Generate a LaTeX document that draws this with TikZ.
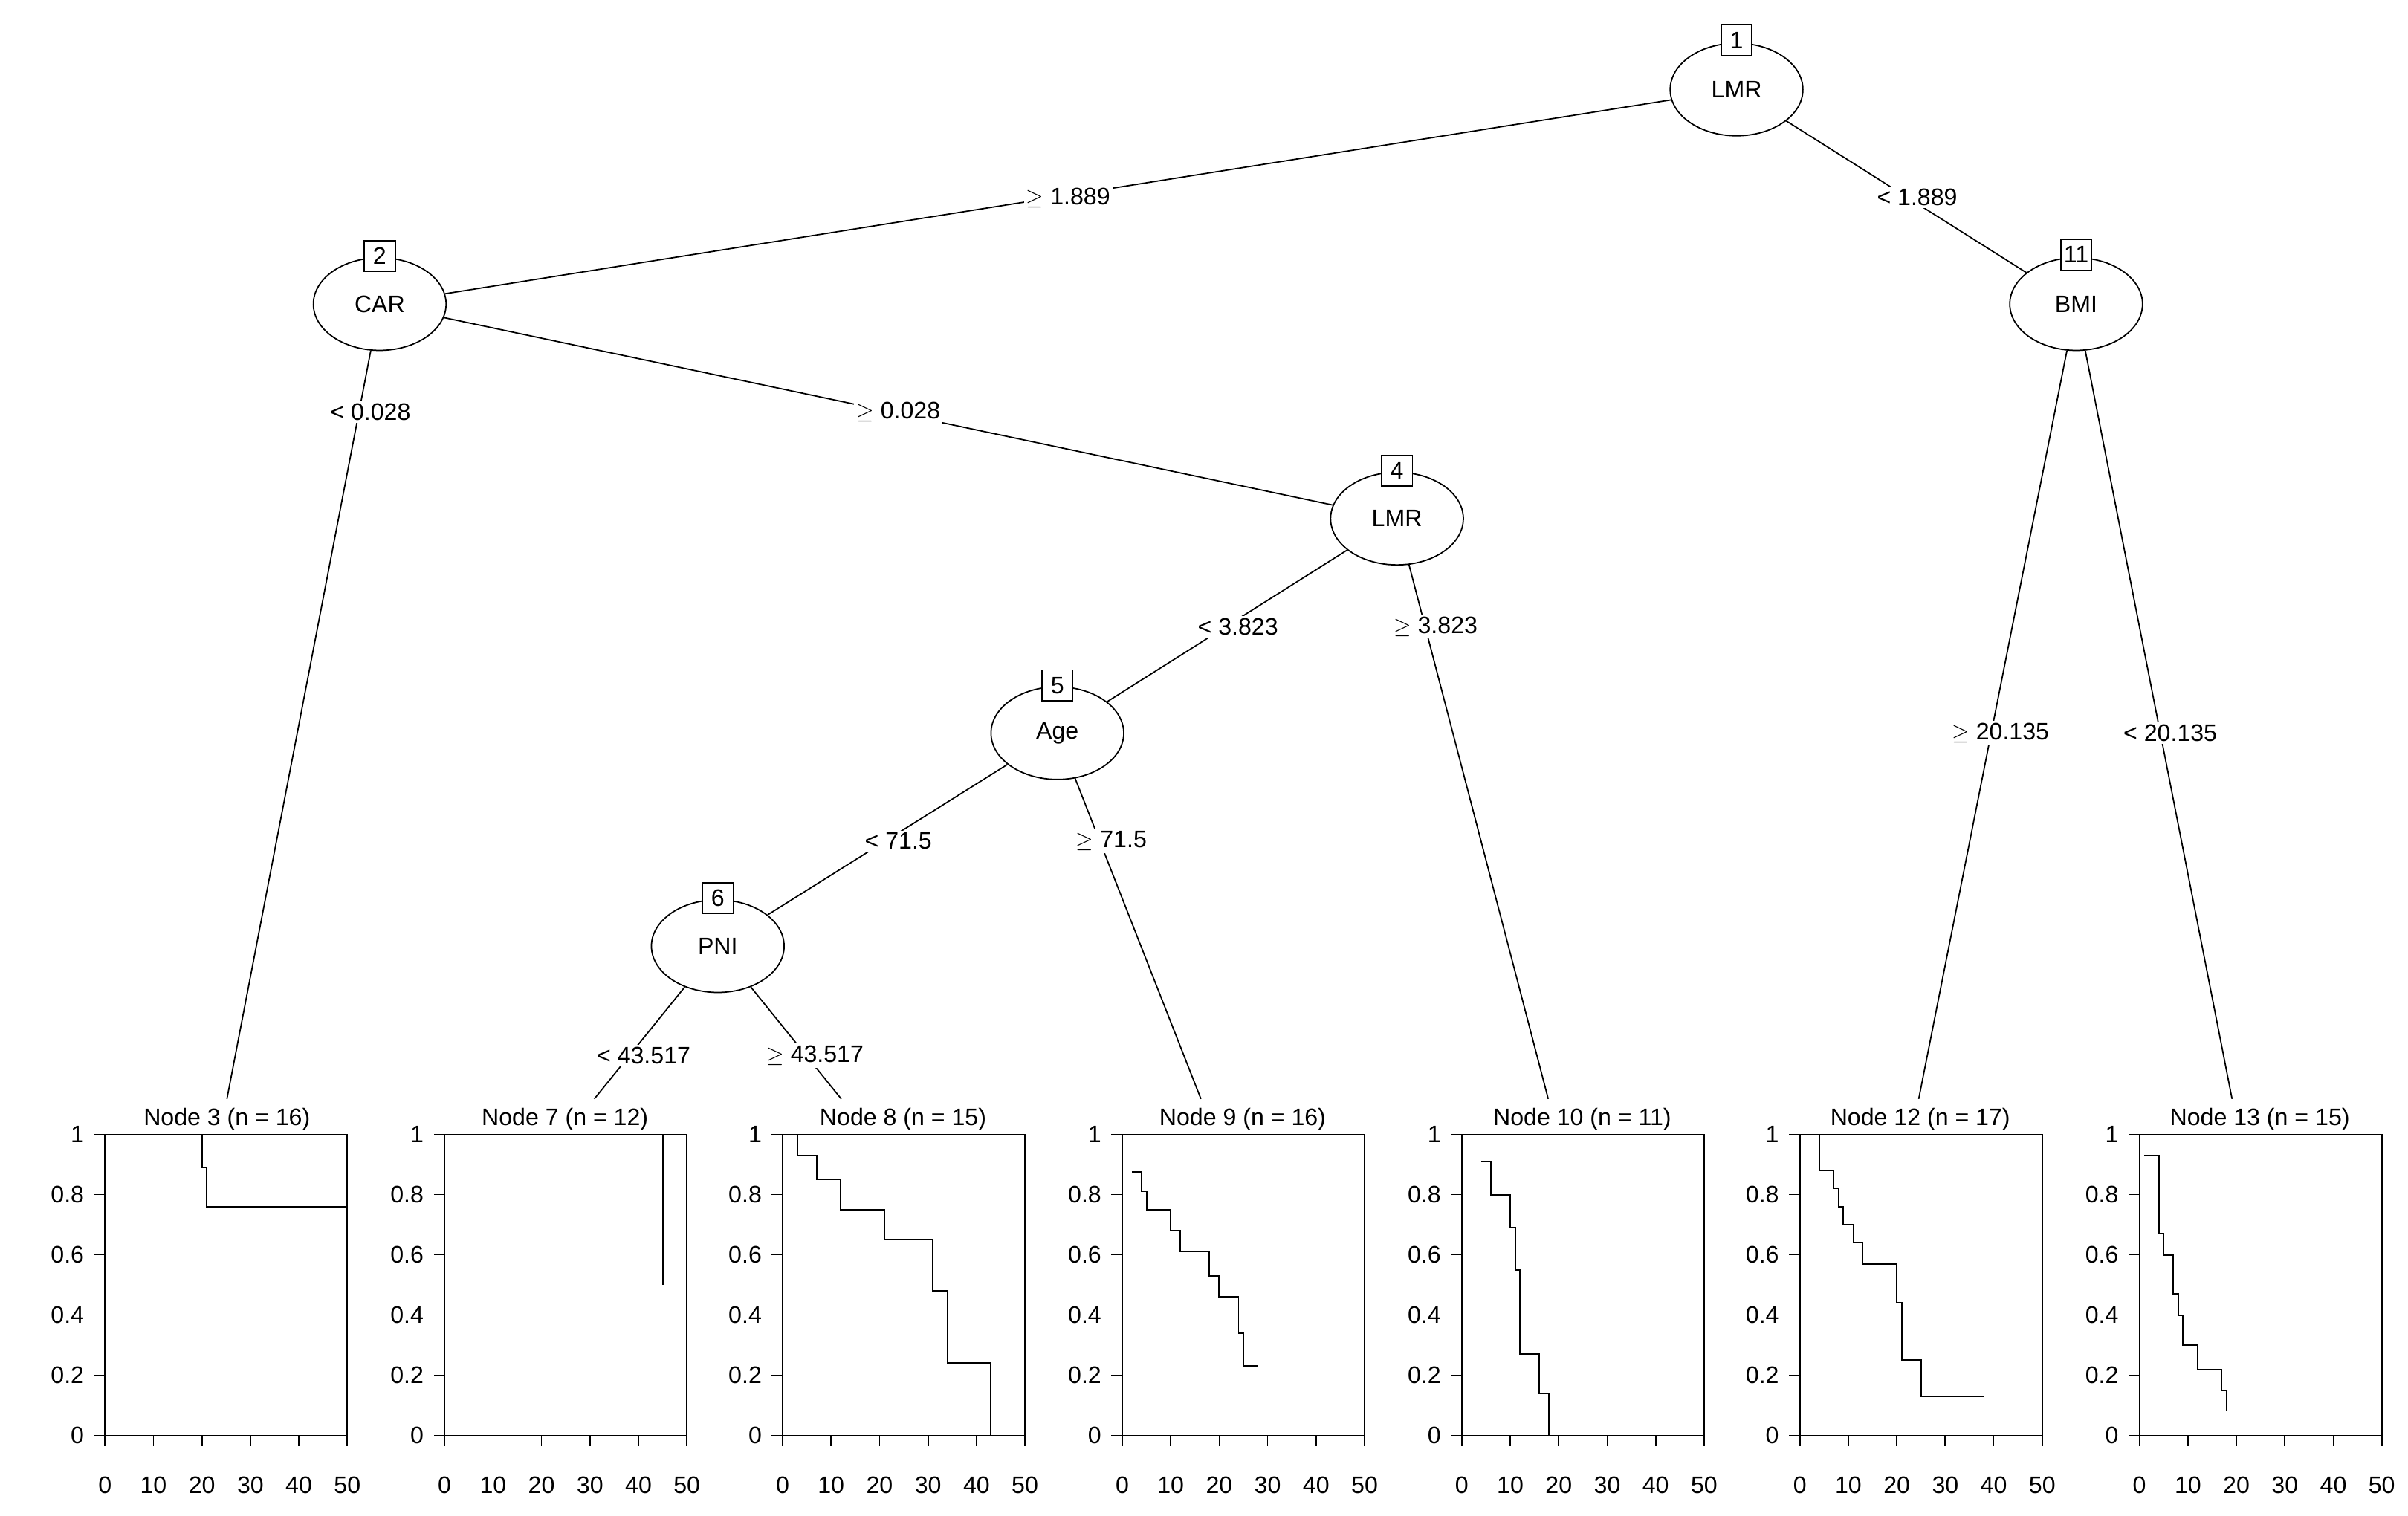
\documentclass[tikz,border=0pt]{standalone}
\usepackage{fontspec}
\setmainfont{Liberation Sans}
\usetikzlibrary{shapes.geometric}
\begin{document}
\begin{tikzpicture}[x=0.05cm,y=-0.05cm,font=\fontsize{22}{26}\selectfont,
  inner/.style={ellipse,draw,line width=1.2pt,minimum width=4.3cm,minimum height=3cm,fill=white},
  num/.style={draw,fill=white,line width=1.2pt,minimum size=1cm,inner sep=0pt},
  lab/.style={fill=white,inner sep=2pt},
  edge/.style={line width=1.2pt},
  curve/.style={line width=1.3pt}]
\useasboundingbox (0,0) rectangle (1560,982);
\node[inner] (n1) at (1125,58) {LMR};
\node[inner] (n2) at (246,197) {CAR};
\node[inner] (n11) at (1345,197) {BMI};
\node[inner] (n4) at (905,336) {LMR};
\node[inner] (n5) at (685,475) {Age};
\node[inner] (n6) at (465,613) {PNI};
\node (l3) at (147,725) {Node 3 (n = 16)};
\node (l7) at (366,725) {Node 7 (n = 12)};
\node (l8) at (585,725) {Node 8 (n = 15)};
\node (l9) at (805,725) {Node 9 (n = 16)};
\node (l10) at (1025,725) {Node 10 (n = 11)};
\node (l12) at (1244,725) {Node 12 (n = 17)};
\node (l13) at (1464,725) {Node 13 (n = 15)};
\coordinate (e3) at (147,712);
\coordinate (e7) at (385,712);
\coordinate (e8) at (545,712);
\coordinate (e9) at (778,712);
\coordinate (e10) at (1003,712);
\coordinate (e12) at (1243,712);
\coordinate (e13) at (1446,712);
\begin{scope}[edge]
\draw (n1) -- (n2); \draw (n1) -- (n11);
\draw (n2) -- (e3); \draw (n2) -- (n4);
\draw (n4) -- (n5); \draw (n4) -- (e10);
\draw (n5) -- (n6); \draw (n5) -- (e9);
\draw (n6) -- (e7); \draw (n6) -- (e8);
\draw (n11) -- (e12); \draw (n11) -- (e13);
\end{scope}
\node[num] (b1) at (1125,26) {1};
\node[num] (b2) at (246,166) {2};
\node[num] (b11) at (1345,165) {11};
\node[num] (b4) at (905,305) {4};
\node[num] (b5) at (685,444) {5};
\node[num] (b6) at (465,582) {6};
\node[lab] (t1) at (692,128) {$\geq$ 1.889};
\node[lab] (t2) at (1242,128) {< 1.889};
\node[lab] (t3) at (240,267) {< 0.028};
\node[lab] (t4) at (582,267) {$\geq$ 0.028};
\node[lab] (t5) at (802,406) {< 3.823};
\node[lab] (t6) at (930,406) {$\geq$ 3.823};
\node[lab] (t7) at (582,545) {< 71.5};
\node[lab] (t8) at (720,545) {$\geq$ 71.5};
\node[lab] (t9) at (417,684) {< 43.517};
\node[lab] (t10) at (528,684) {$\geq$ 43.517};
\node[lab] (t11) at (1296,475) {$\geq$ 20.135};
\node[lab] (t12) at (1406,475) {< 20.135};
\foreach \x in {68,288,507,727,947,1166,1386}{
  \draw[line width=1.2pt] (\x,735) rectangle (\x+157,930);
  \foreach \v/\s in {0/0,0.2/0.2,0.4/0.4,0.6/0.6,0.8/0.8,1/1}{
    \draw[line width=1.2pt] (\x,930-195*\v) -- (\x-7,930-195*\v);
    \node[anchor=east,inner sep=2pt] at (\x-12,930-195*\v) {\s};}
  \foreach \t in {0,10,20,30,40,50}{
    \draw[line width=1.2pt] (\x+3.14*\t,930) -- (\x+3.14*\t,937);
    \node at (\x+3.14*\t,962) {\t};}
}
\newcommand{\km}[2]{\begin{scope}[shift={(#1,930)},xscale=3.14,yscale=-195]\draw[curve] #2;\end{scope}}
\km{68}{(20,1) -- (20,0.89) -- (21,0.89) -- (21,0.76) -- (50,0.76)}
\km{288}{(45,1) -- (45,0.5)}
\km{507}{(3,1) -- (3,0.93) -- (7,0.93) -- (7,0.85) -- (12,0.85) -- (12,0.75) -- (21,0.75) -- (21,0.65) -- (31,0.65) -- (31,0.48) -- (34,0.48) -- (34,0.24) -- (43,0.24) -- (43,0)}
\km{727}{(2,0.875) -- (4,0.875) -- (4,0.81) -- (5,0.81) -- (5,0.75) -- (10,0.75) -- (10,0.68) -- (12,0.68) -- (12,0.61) -- (18,0.61) -- (18,0.53) -- (20,0.53) -- (20,0.46) -- (24,0.46) -- (24,0.34) -- (25,0.34) -- (25,0.23) -- (28,0.23)}
\km{947}{(4,0.91) -- (6,0.91) -- (6,0.8) -- (10,0.8) -- (10,0.69) -- (11,0.69) -- (11,0.55) -- (12,0.55) -- (12,0.27) -- (16,0.27) -- (16,0.14) -- (18,0.14) -- (18,0)}
\km{1166}{(4,1) -- (4,0.88) -- (7,0.88) -- (7,0.82) -- (8,0.82) -- (8,0.76) -- (9,0.76) -- (9,0.70) -- (11,0.70) -- (11,0.64) -- (13,0.64) -- (13,0.57) -- (20,0.57) -- (20,0.44) -- (21,0.44) -- (21,0.25) -- (25,0.25) -- (25,0.13) -- (38,0.13)}
\km{1386}{(1,0.93) -- (4,0.93) -- (4,0.67) -- (5,0.67) -- (5,0.6) -- (7,0.6) -- (7,0.47) -- (8,0.47) -- (8,0.4) -- (9,0.4) -- (9,0.3) -- (12,0.3) -- (12,0.22) -- (17,0.22) -- (17,0.15) -- (18,0.15) -- (18,0.08)}
\end{tikzpicture}
\end{document}
